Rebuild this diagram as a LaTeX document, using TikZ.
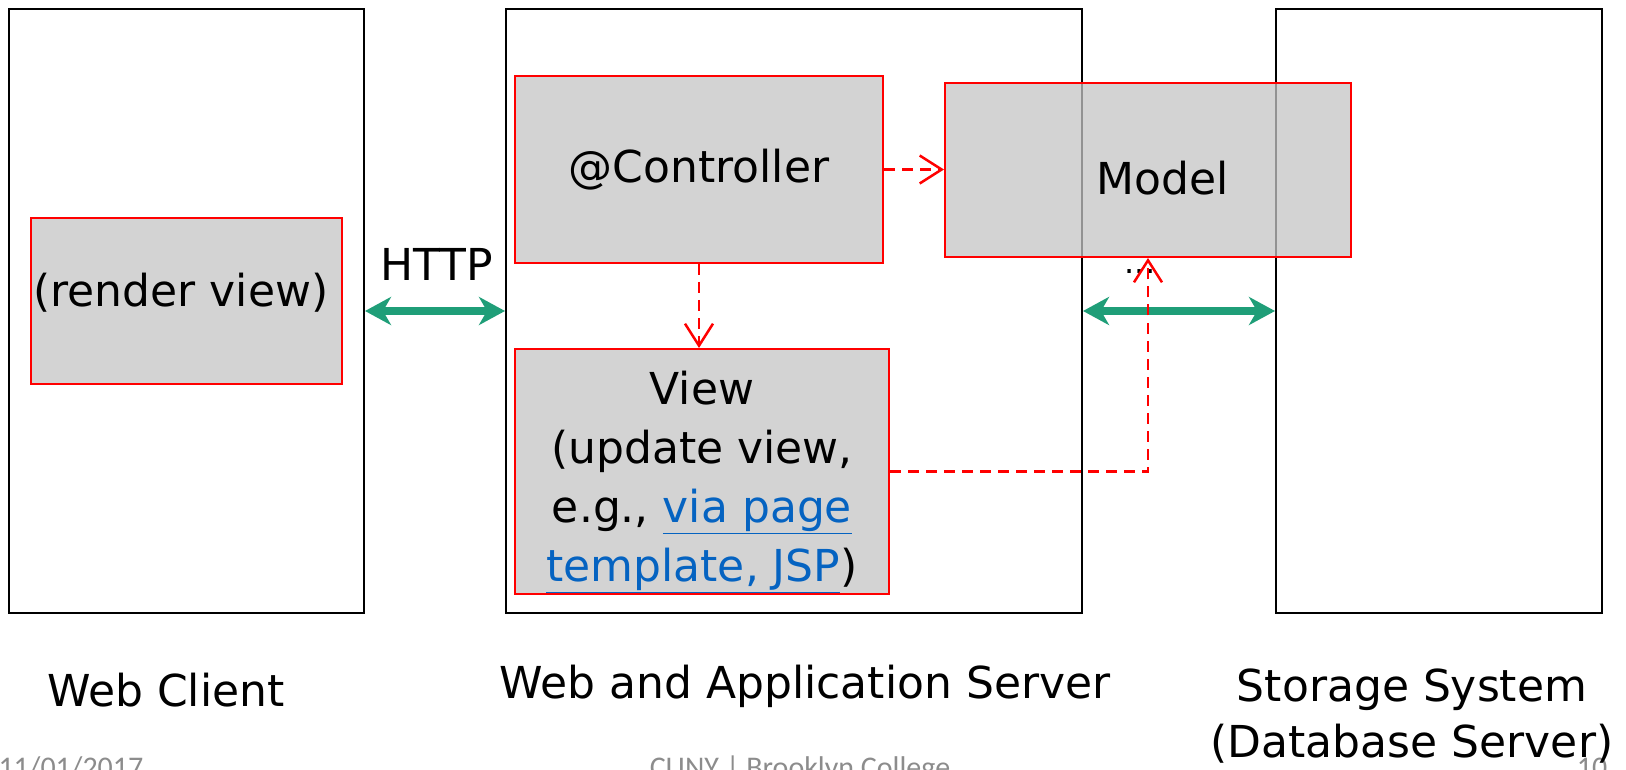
\documentclass[tikz,border=0pt]{standalone}
\usepackage{fontspec}
\setmainfont{DejaVu Sans}
\newfontfamily\footfont{Carlito}
\usetikzlibrary{arrows.meta}
\definecolor{boxgray}{HTML}{D3D3D3}
\definecolor{modelgray}{HTML}{C4C4C4}
\definecolor{linkblue}{HTML}{0563C1}
\definecolor{arrowgreen}{HTML}{1F9E78}
\definecolor{footgray}{HTML}{8C8C8C}
\newcommand{\weblink}[1]{\textcolor{linkblue}{\underline{#1}}}

\begin{document}
\begin{tikzpicture}[x=1pt,y=-1pt,
  tier/.style={draw=black, line width=2pt, anchor=north west, inner sep=0pt},
  comp/.style={draw=red, line width=2pt, fill=boxgray, inner sep=0pt},
  big/.style={font=\fontsize{44}{59}\selectfont},
  flow/.style={red, line width=2.5pt, dash pattern=on 11pt off 7pt,
    -{Straight Barb[length=22pt,width=28pt,line width=2.5pt]}},
  link/.style={arrowgreen, line width=8pt,
    {Stealth[length=26pt,width=28pt,inset=8pt]}-{Stealth[length=26pt,width=28pt,inset=8pt]}},
  foot/.style={footgray, font=\footfont\fontsize{30}{36}\selectfont, anchor=base},
]
\useasboundingbox (0,0) rectangle (1626,770);

% footer (partly cut by the page edge)
\node[foot, anchor=base west] (date) at (-5,777) {11/01/2017};
\node[foot] (college) at (800,777) {CUNY | Brooklyn College};
\node[foot] (page) at (1592,777) {10};

% three tiers
\node[tier, minimum width=355pt, minimum height=604pt] (client) at (8,8) {};
\node[tier, minimum width=576pt, minimum height=604pt] (server) at (505,8) {};
\node[tier, minimum width=326pt, minimum height=604pt] (storage) at (1275,8) {};

% components
\node[comp, minimum width=311pt, minimum height=166pt] (render) at (186.5,301) {};
\node[big] (rendertxt) at (181,293) {(render view)};
\node[comp, minimum width=368pt, minimum height=187pt, big] (ctrl) at (699,169.5) {@Controller};
\node[comp, minimum width=374pt, minimum height=245pt] (view) at (702,471.5) {};
\node[big, align=center] (viewtxt) at (702,482) {View\\(update view,\\e.g., \weblink{via page}\\\weblink{template, JSP})};
\node[comp, fill=modelgray, fill opacity=0.75, minimum width=406pt, minimum height=174pt] (model) at (1148,170) {};
\node[big] (modeltxt) at (1163,178) {Model};

% HTTP and database links
\node[big] (http) at (437,264) {HTTP};
\draw[link] (client.east) -- (server.west);
\draw[link] (server.east) -- (storage.west);

% dependencies
\node[font=\fontsize{32}{36}\selectfont] (dots) at (1140,272) {...};
\draw[flow] (ctrl.east) -- (ctrl.east -| model.west);
\draw[flow] (ctrl.south) -- (ctrl.south |- view.north);
\draw[flow] (view.east) -| (model.south);

% tier captions
\node[big] (cap1) at (166,690) {Web Client};
\node[big] (cap2) at (805,686) {Web and Application Server};
\node[big, align=center, font=\fontsize{44}{56}\selectfont] (cap3) at (1412,716) {Storage System\\(Database Server)};
\end{tikzpicture}
\end{document}
